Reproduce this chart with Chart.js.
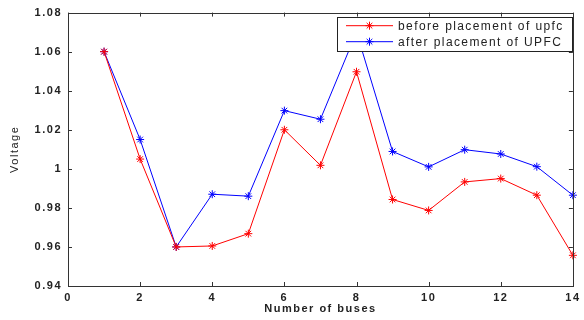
<!DOCTYPE html>
<html>
<head>
<meta charset="utf-8">
<script src="https://cdn.jsdelivr.net/npm/chart.js@4/dist/chart.umd.min.js"></script>
<style>
  html, body { margin: 0; padding: 0; background: #fff; }
  #wrap { width: 584px; height: 320px; }
</style>
</head>
<body>
<div id="wrap"><canvas id="chart" width="584" height="320"></canvas></div>
<script>
const buses = [1, 2, 3, 4, 5, 6, 7, 8, 9, 10, 11, 12, 13, 14];
const beforeUpfc = [1.060, 1.005, 0.960, 0.9605, 0.9668, 1.020, 1.0018, 1.0497, 0.9843, 0.9787, 0.9933, 0.995, 0.9865, 0.9557];
const afterUpfc = [1.060, 1.015, 0.960, 0.987, 0.986, 1.0298, 1.0254, 1.070, 1.0089, 1.001, 1.0098, 1.0076, 1.0011, 0.9865];
const xTicks = [0, 2, 4, 6, 8, 10, 12, 14];
const yTicks = [0.94, 0.96, 0.98, 1.00, 1.02, 1.04, 1.06, 1.08];
const legendLabels = ['before placement of upfc', 'after placement of UPFC'];

const textColor = '#222';
const axisColor = '#333';

const toPoints = vals => vals.map((v, i) => ({ x: buses[i], y: v }));

// box round the axes with inward ticks on all four sides (matlab style)
const matlabAxes = {
    id: 'matlabAxes',
    beforeDraw(chart) {
        chart.ctx.letterSpacing = '1.5px';
    },
    afterDraw(chart) {
        const { ctx, chartArea: a, scales } = chart;
        ctx.save();
        ctx.letterSpacing = '0px';
        ctx.strokeStyle = axisColor;
        ctx.lineWidth = 1;
        ctx.strokeRect(Math.round(a.left) + 0.5, Math.round(a.top) + 0.5, Math.round(a.right - a.left), Math.round(a.bottom - a.top));
        const tl = 4;
        ctx.beginPath();
        xTicks.forEach(t => {
            const x = Math.round(scales.x.getPixelForValue(t)) + 0.5;
            ctx.moveTo(x, a.bottom); ctx.lineTo(x, a.bottom - tl);
            ctx.moveTo(x, a.top); ctx.lineTo(x, a.top + tl);
        });
        yTicks.forEach(t => {
            const y = Math.round(scales.y.getPixelForValue(t)) + 0.5;
            ctx.moveTo(a.left, y); ctx.lineTo(a.left + tl, y);
            ctx.moveTo(a.right, y); ctx.lineTo(a.right - tl, y);
        });
        ctx.stroke();

        // legend
        const bx = 337.5, by = 17.5, bw = 235, bh = 34;
        ctx.fillStyle = '#fff';
        ctx.fillRect(bx, by, bw, bh);
        ctx.strokeStyle = '#222';
        ctx.strokeRect(bx, by, bw, bh);
        const rows = [25.7, 41.7];
        chart.data.datasets.forEach((ds, i) => {
            const y = rows[i];
            ctx.strokeStyle = ds.borderColor;
            ctx.lineWidth = 1;
            ctx.beginPath();
            ctx.moveTo(346, y); ctx.lineTo(393, y);
            ctx.stroke();
            ctx.fillStyle = ds.borderColor;
            Chart.helpers.drawPoint(ctx, { pointStyle: 'star', radius: 4, rotation: 0, borderWidth: 1 }, 369.5, y);
            ctx.fillStyle = textColor;
            ctx.font = '12px "Liberation Sans", Arial, sans-serif';
            ctx.letterSpacing = '1.4px';
            ctx.textBaseline = 'middle';
            ctx.textAlign = 'left';
            ctx.fillText(legendLabels[i], 398, y + 0.5);
            ctx.letterSpacing = '0px';
        });
        ctx.restore();
    }
};

new Chart(document.getElementById('chart'), {
    type: 'line',
    data: {
        datasets: [
            {
                label: legendLabels[0],
                data: toPoints(beforeUpfc),
                borderColor: '#ff0000',
                backgroundColor: '#ff0000',
                borderWidth: 1,
                pointStyle: 'star',
                pointRadius: 4,
                pointBorderWidth: 1,
                tension: 0,
                clip: false
            },
            {
                label: legendLabels[1],
                data: toPoints(afterUpfc),
                borderColor: '#0000ff',
                backgroundColor: '#0000ff',
                borderWidth: 1,
                pointStyle: 'star',
                pointRadius: 4,
                pointBorderWidth: 1,
                tension: 0,
                clip: false
            }
        ]
    },
    options: {
        responsive: false,
        animation: false,
        events: [],
        layout: { padding: { left: 0, right: 6, top: 12, bottom: 0 } },
        plugins: { legend: { display: false }, tooltip: { enabled: false } },
        scales: {
            x: {
                type: 'linear',
                min: 0,
                max: 14,
                afterBuildTicks: s => { s.ticks = xTicks.map(v => ({ value: v })); },
                afterFit: s => { s.height = 34; },
                grid: { display: false, drawTicks: false },
                border: { display: false },
                ticks: {
                    padding: 5,
                    maxRotation: 0,
                    color: textColor,
                    font: { family: '"Liberation Sans", Arial, sans-serif', size: 11, weight: 'bold' }
                },
                title: {
                    display: true,
                    text: 'Number of buses',
                    color: textColor,
                    padding: { top: 0, bottom: 4 },
                    font: { family: '"Liberation Sans", Arial, sans-serif', size: 11, weight: 'bold' }
                }
            },
            y: {
                min: 0.94,
                max: 1.08,
                afterBuildTicks: s => { s.ticks = yTicks.map(v => ({ value: v })); },
                afterFit: s => { s.width = 68; },
                grid: { display: false, drawTicks: false },
                border: { display: false },
                ticks: {
                    padding: 6,
                    color: textColor,
                    callback: v => String(Number(v.toFixed(2))),
                    font: { family: '"Liberation Sans", Arial, sans-serif', size: 11, weight: 'bold' }
                },
                title: {
                    display: true,
                    text: 'Voltage',
                    color: textColor,
                    padding: { top: 8, bottom: 0 },
                    font: { family: '"Liberation Sans", Arial, sans-serif', size: 11 }
                }
            }
        }
    },
    plugins: [matlabAxes]
});
</script>
</body>
</html>
